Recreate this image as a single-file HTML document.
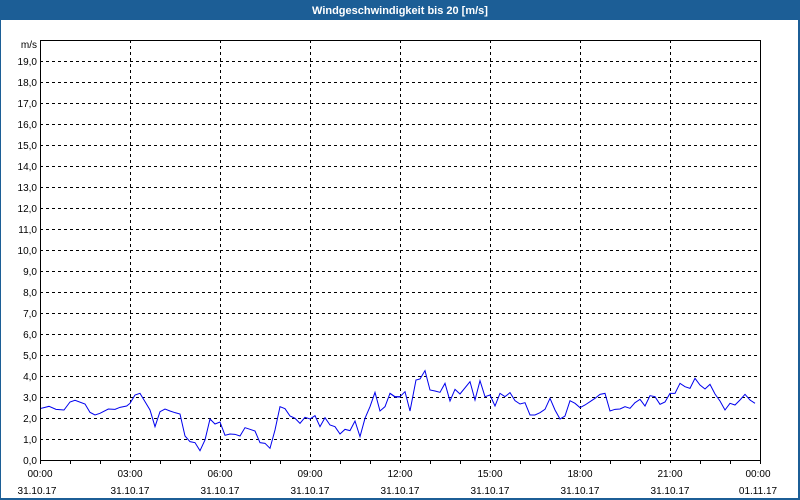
<!DOCTYPE html>
<html><head><meta charset="utf-8"><style>
html,body{margin:0;padding:0;width:800px;height:500px;overflow:hidden;background:#fff}
</style></head><body>
<svg width="800" height="500" xmlns="http://www.w3.org/2000/svg" font-family="Liberation Sans, sans-serif" font-size="10">
<rect x="0" y="0" width="800" height="500" fill="#1c5e96"/>
<rect x="1" y="20" width="797" height="478" fill="#fff"/>
<text x="400" y="14" fill="#fff" font-weight="bold" text-anchor="middle" font-size="11">Windgeschwindigkeit bis 20 [m/s]</text>
<g stroke="#000" stroke-dasharray="3,3" stroke-width="1" shape-rendering="crispEdges">
<line x1="40" x2="760" y1="61.5" y2="61.5"/><line x1="40" x2="760" y1="82.5" y2="82.5"/><line x1="40" x2="760" y1="103.5" y2="103.5"/><line x1="40" x2="760" y1="124.5" y2="124.5"/><line x1="40" x2="760" y1="145.5" y2="145.5"/><line x1="40" x2="760" y1="166.5" y2="166.5"/><line x1="40" x2="760" y1="187.5" y2="187.5"/><line x1="40" x2="760" y1="208.5" y2="208.5"/><line x1="40" x2="760" y1="229.5" y2="229.5"/><line x1="40" x2="760" y1="250.5" y2="250.5"/><line x1="40" x2="760" y1="271.5" y2="271.5"/><line x1="40" x2="760" y1="292.5" y2="292.5"/><line x1="40" x2="760" y1="313.5" y2="313.5"/><line x1="40" x2="760" y1="334.5" y2="334.5"/><line x1="40" x2="760" y1="355.5" y2="355.5"/><line x1="40" x2="760" y1="376.5" y2="376.5"/><line x1="40" x2="760" y1="397.5" y2="397.5"/><line x1="40" x2="760" y1="418.5" y2="418.5"/><line x1="40" x2="760" y1="439.5" y2="439.5"/>
<line x1="130.5" x2="130.5" y1="40" y2="464"/><line x1="220.5" x2="220.5" y1="40" y2="464"/><line x1="310.5" x2="310.5" y1="40" y2="464"/><line x1="400.5" x2="400.5" y1="40" y2="464"/><line x1="490.5" x2="490.5" y1="40" y2="464"/><line x1="580.5" x2="580.5" y1="40" y2="464"/><line x1="670.5" x2="670.5" y1="40" y2="464"/>
</g>
<g stroke="#000" shape-rendering="crispEdges">
<rect x="40.5" y="40.5" width="720" height="420" fill="none"/>
<line x1="40.5" x2="40.5" y1="460" y2="464"/><line x1="70.5" x2="70.5" y1="460" y2="464"/><line x1="100.5" x2="100.5" y1="460" y2="464"/><line x1="160.5" x2="160.5" y1="460" y2="464"/><line x1="190.5" x2="190.5" y1="460" y2="464"/><line x1="250.5" x2="250.5" y1="460" y2="464"/><line x1="280.5" x2="280.5" y1="460" y2="464"/><line x1="340.5" x2="340.5" y1="460" y2="464"/><line x1="370.5" x2="370.5" y1="460" y2="464"/><line x1="430.5" x2="430.5" y1="460" y2="464"/><line x1="460.5" x2="460.5" y1="460" y2="464"/><line x1="520.5" x2="520.5" y1="460" y2="464"/><line x1="550.5" x2="550.5" y1="460" y2="464"/><line x1="610.5" x2="610.5" y1="460" y2="464"/><line x1="640.5" x2="640.5" y1="460" y2="464"/><line x1="700.5" x2="700.5" y1="460" y2="464"/><line x1="730.5" x2="730.5" y1="460" y2="464"/><line x1="760.5" x2="760.5" y1="460" y2="464"/>
</g>
<g fill="#000" text-anchor="end">
<text x="37" y="48">m/s</text>
<text x="37" y="65">19,0</text><text x="37" y="86">18,0</text><text x="37" y="107">17,0</text><text x="37" y="128">16,0</text><text x="37" y="149">15,0</text><text x="37" y="170">14,0</text><text x="37" y="191">13,0</text><text x="37" y="212">12,0</text><text x="37" y="233">11,0</text><text x="37" y="254">10,0</text><text x="37" y="275">9,0</text><text x="37" y="296">8,0</text><text x="37" y="317">7,0</text><text x="37" y="338">6,0</text><text x="37" y="359">5,0</text><text x="37" y="380">4,0</text><text x="37" y="401">3,0</text><text x="37" y="422">2,0</text><text x="37" y="443">1,0</text><text x="37" y="464">0,0</text>
</g>
<g fill="#000" text-anchor="middle">
<text x="40" y="477">00:00</text><text x="130" y="477">03:00</text><text x="220" y="477">06:00</text><text x="310" y="477">09:00</text><text x="400" y="477">12:00</text><text x="490" y="477">15:00</text><text x="580" y="477">18:00</text><text x="670" y="477">21:00</text><text x="758" y="477">00:00</text>
<text x="37" y="494">31.10.17</text><text x="130" y="494">31.10.17</text><text x="220" y="494">31.10.17</text><text x="310" y="494">31.10.17</text><text x="400" y="494">31.10.17</text><text x="490" y="494">31.10.17</text><text x="580" y="494">31.10.17</text><text x="670" y="494">31.10.17</text><text x="758" y="494">01.11.17</text>
</g>
<g fill="none" stroke="#0000ee" stroke-width="1">
<polyline vector-effect="non-scaling-stroke" transform="translate(30,360) scale(0.33333)" points="33,145 45,142 57,139 78,148 102,150 120,126 135,121 165,132 180,157 195,165 210,160 235,147 255,148 270,142 290,138 300,130 315,105 330,100 345,125 360,150 375,200 390,155 405,147 420,153 435,158 450,162 465,228 480,245 495,248 510,272 525,240 540,177 555,192 570,186 585,226 600,222 615,223 630,228 645,203 660,208 675,213 690,248 705,250 720,265 735,210 750,140 765,146 780,168 795,175 810,190 825,172 840,177 855,167 870,200 885,173 900,195 915,200 930,222 945,208 960,212 975,183 990,230 1005,175 1020,140 1035,97 1050,153 1065,140 1080,100 1095,111 1110,111"/>
<polyline vector-effect="non-scaling-stroke" transform="translate(390,360) scale(0.33333)" points="0,100 15,110 30,110 45,95 60,153 78,60 90,57 105,32 120,90 135,93 150,97 165,70 180,123 195,88 210,102 240,65 255,120 270,62 285,110 300,105 315,138 330,100 345,110 360,98 375,122 390,132 405,128 420,165 435,165 450,158 465,148 480,115 495,150 510,177 525,168 540,122 555,130 570,143 585,135 600,125 615,115 630,103 645,100 660,153 675,148 690,147 705,140 720,145 735,128 750,118 765,138 780,107 795,110 810,133 825,126 840,100 855,100 870,70 885,80 900,85 915,55 930,75 945,87 960,73 975,102 990,123 1005,150 1020,130 1035,135 1050,120 1065,103 1080,120 1095,130"/>
</g>
</svg>
</body></html>
